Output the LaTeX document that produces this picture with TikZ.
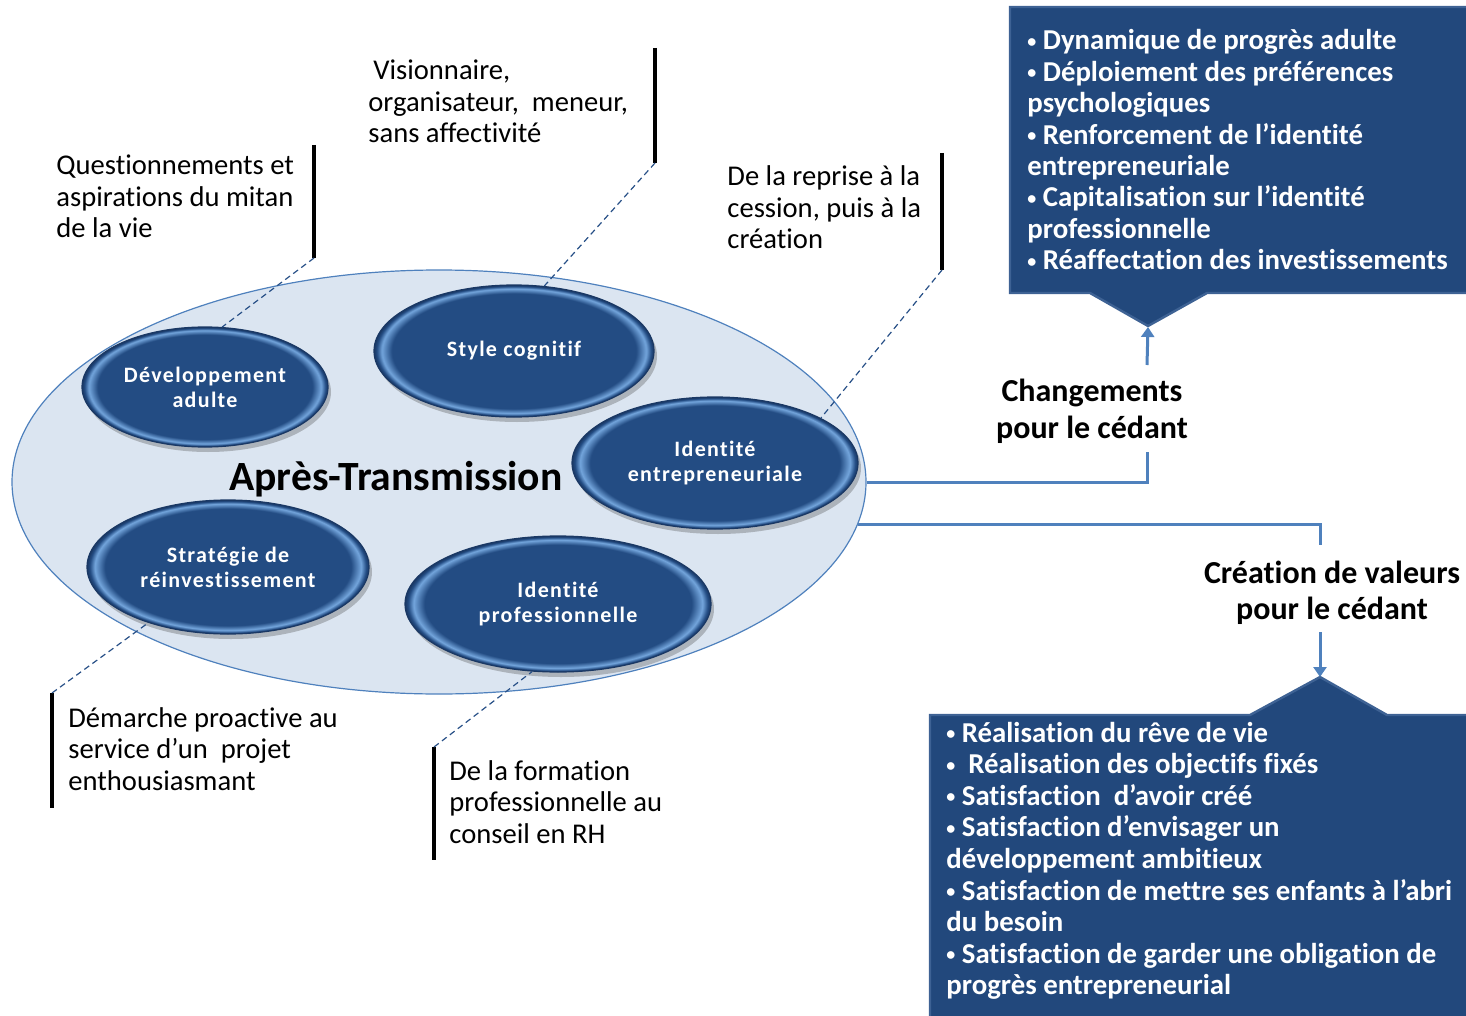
\documentclass[tikz,border=0pt]{standalone}
\usepackage{fontspec}
\setmainfont{Carlito}[Ligatures=NoCommon]
\newfontfamily\pillfont{Carlito}[LetterSpace=6, Ligatures=NoCommon]
\usetikzlibrary{shapes.geometric,shadows,arrows.meta}
\definecolor{boxblue}{RGB}{34,72,124}
\definecolor{boxedge}{RGB}{62,98,148}
\definecolor{pillblue}{RGB}{35,76,131}
\definecolor{pillhi}{RGB}{115,165,220}
\definecolor{pilldark}{RGB}{26,56,100}
\definecolor{bigfill}{RGB}{219,229,241}
\definecolor{linkblue}{RGB}{79,129,189}
\definecolor{dashblue}{RGB}{40,80,135}
\pgfdeclareradialshading{pillrim}{\pgfpoint{0bp}{0bp}}{color(0bp)=(pillblue); color(21.8bp)=(pillblue); color(23.6bp)=(pillhi); color(24.5bp)=(pillblue); color(25bp)=(pilldark); color(50bp)=(pilldark)}
\newcommand\rows[1]{\begin{tabular}[t]{@{}l@{}}#1\end{tabular}}
\newcommand\crows[1]{\begin{tabular}[t]{@{}c@{}}#1\end{tabular}}
\newcommand\bul{\raisebox{1.2pt}{\fontsize{9}{9}\selectfont •}}
\begin{document}
\begin{tikzpicture}[x=0.5pt,y=-0.5pt,
  bigell/.style={ellipse, inner sep=0, fill=bigfill, draw=linkblue, line width=0.6pt},
  pill/.style={ellipse, inner sep=0, shade, shading=pillrim, draw=pilldark, line width=0.6pt,
    drop shadow={opacity=0.3, shadow xshift=1.5pt, shadow yshift=-2.5pt, fill=black!75},
    text=white, align=center, font=\pillfont\bfseries\fontsize{11}{12.5}\selectfont},
  lbl/.style={anchor=base west, inner sep=0, font=\fontsize{14.3}{15.75}\selectfont},
  boxtxt/.style={anchor=base west, inner sep=0, text=white, font=\bfseries\fontsize{14.4}{15.7}\selectfont},
  head/.style={anchor=base, inner sep=0, font=\bfseries\fontsize{16}{18.5}\selectfont},
  bar/.style={draw=black, line width=1.6pt},
  dashlink/.style={draw=dashblue, line width=0.6pt, dash pattern=on 3pt off 2pt},
  link/.style={draw=linkblue, line width=1.5pt},
  linkarrow/.style={link, -{Triangle[width=6.5pt,length=5pt]}},
  callout/.style={fill=boxblue, draw=boxedge, line width=1.2pt}
]
\useasboundingbox (0,0) rectangle (1466,1016);

% callout boxes
\path[callout] (1010,7) -- (1480,7) -- (1480,293) -- (1207,293) -- (1148,326) -- (1090,293) -- (1010,293) -- cycle;
\coordinate (tipA) at (1148,327);
\path[callout] (930,715) -- (1250,715) -- (1320,677) -- (1387,715) -- (1480,715) -- (1480,1030) -- (930,1030) -- cycle;
\coordinate (tipB) at (1320,677);

\node[boxtxt] (listA) at (1027,50) {\rows{\bul\ Dynamique de progrès adulte\\\bul\ Déploiement des préférences\\psychologiques\\\bul\ Renforcement de l’identité\\entrepreneuriale\\\bul\ Capitalisation sur l’identité\\professionnelle\\\bul\ Réaffectation des investissements}};
\node[boxtxt, font=\bfseries\fontsize{14.4}{15.8}\selectfont] (listB) at (946,742) {\rows{\bul\ Réalisation du rêve de vie\\\bul\ \ Réalisation des objectifs fixés\\\bul\ Satisfaction\ \ d’avoir créé\\\bul\ Satisfaction d’envisager un\\développement ambitieux\\\bul\ Satisfaction de mettre ses enfants à l’abri\\du besoin\\\bul\ Satisfaction de garder une obligation de\\progrès entrepreneurial}};

% central ellipse
\node[bigell, minimum width=427pt, minimum height=212pt] (big) at (439,482) {};
\node[inner sep=0, font=\bfseries\fontsize{20.8}{24}\selectfont] (title) at (396,479) {Après-Transmission};

\node[pill, minimum width=123pt, minimum height=60pt] (dev) at (205,387) {Développement\\adulte};
\node[pill, minimum width=140pt, minimum height=66pt] (style) at (514,351) {Style cognitif};
\node[pill, minimum width=143pt, minimum height=66pt] (entre) at (715,463) {Identité\\entrepreneuriale};
\node[pill, minimum width=141pt, minimum height=67pt] (strat) at (228,567) {Stratégie de\\réinvestissement};
\node[pill, minimum width=153pt, minimum height=68pt] (prof) at (558,604) {Identité\\professionnelle};

% callout labels
\coordinate (b1t) at (314,145); \coordinate (b1b) at (314,258);
\draw[bar] (b1t) -- (b1b);
\draw[dashlink] (b1b) -- (dev.74);
\node[lbl] (q1) at (56,175) {\rows{Questionnements et\\aspirations du mitan\\de la vie}};

\coordinate (b2t) at (655,48); \coordinate (b2b) at (655,163);
\draw[bar] (b2t) -- (b2b);
\draw[dashlink] (b2b) -- (style.65);
\node[lbl] (q2) at (368,80) {\rows{\hspace{2.5pt}Visionnaire,\\organisateur,\ \ meneur,\\sans affectivité}};

\coordinate (b3t) at (942,153); \coordinate (b3b) at (942,270);
\draw[bar] (b3t) -- (b3b);
\draw[dashlink] (b3b) -- (entre.23);
\node[lbl] (q3) at (727,186) {\rows{De la reprise à la\\cession, puis à la\\création}};

\coordinate (b4t) at (52,693); \coordinate (b4b) at (52,808);
\draw[bar] (b4t) -- (b4b);
\draw[dashlink] (b4t) -- (strat.-145);
\node[lbl] (q4) at (68,727) {\rows{Démarche proactive au\\service d’un\ \ projet\\enthousiasmant}};

\coordinate (b5t) at (434,747); \coordinate (b5b) at (434,860);
\draw[bar] (b5t) -- (b5b);
\draw[dashlink] (b5t) -- (prof.-111);
\node[lbl] (q5) at (449,780) {\rows{De la formation\\professionnelle au\\conseil en RH}};

% right side connectors
\node[head] (chg) at (1092,401) {\crows{Changements\\pour le cédant}};
\coordinate (c1e) at (1147,452);
\draw[link] (big.east) -| (c1e);
\coordinate (c1a) at (1147,365);
\draw[linkarrow] (c1a) -- (tipA);

\node[head, font=\bfseries\fontsize{16}{18}\selectfont] (crea) at (1332,583) {\crows{Création de valeurs\\pour le cédant}};
\coordinate (c2s) at (858,524); \coordinate (c2e) at (1320,545);
\draw[link] (c2s) -| (c2e);
\coordinate (c2a) at (1320,632);
\draw[linkarrow] (c2a) -- (tipB);
\end{tikzpicture}
\end{document}
